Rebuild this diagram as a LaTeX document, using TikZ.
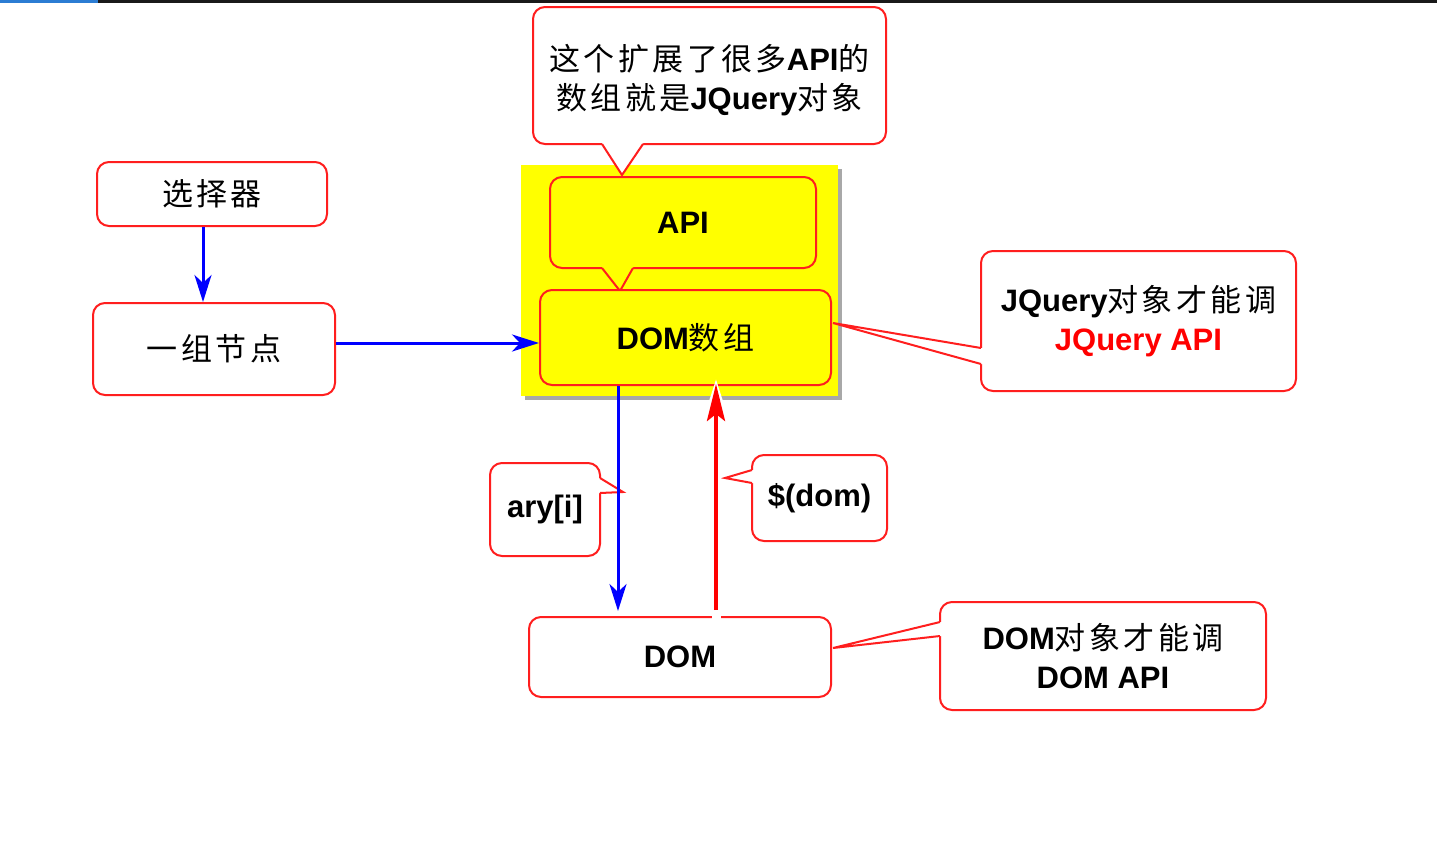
\documentclass[tikz,border=0pt]{standalone}
\usepackage{fontspec}
\setmainfont{Liberation Sans}
\newfontfamily\cjk[LetterSpace=11]{Noto Sans CJK SC}
\newcommand{\zh}[1]{{\cjk\mdseries #1}}
\usetikzlibrary{arrows.meta,shadows,calc}
\definecolor{boxred}{RGB}{255,30,30}
\definecolor{arrblue}{RGB}{0,0,255}
\definecolor{barblue}{RGB}{43,124,211}
\definecolor{barblack}{RGB}{25,25,25}
\definecolor{jqyellow}{RGB}{255,255,0}
\newcommand{\calloutptr}[5]{%
  \fill[#1] (#2) -- (#3) -- (#4) -- ($(#4)+#5$) -- ($(#2)+#5$) -- cycle;
  \draw[ptr] (#2) -- (#3) -- (#4);}
\begin{document}
\begin{tikzpicture}[x=1pt,y=-1pt,
  box/.style={draw=boxred, line width=2pt, rounded corners=12pt, fill=white,
    inner sep=0pt, align=center, font=\fontsize{31}{39}\selectfont\bfseries},
  ybox/.style={box, fill=jqyellow},
  bluearrow/.style={draw=arrblue, line width=3pt, -{Stealth[length=27pt,width=17pt,inset=8pt]}},
  redarrow/.style={draw=red, line width=4pt, -{Stealth[length=37pt,width=18pt,inset=7pt]}},
  whitearrow/.style={draw=white, line width=9pt, -{Stealth[length=42pt,width=26pt,inset=8pt]}},
  ptr/.style={draw=boxred, line width=2pt, line join=miter},
]
\useasboundingbox (0,0) rectangle (1437,855);
\fill[white] (0,0) rectangle (1437,855);
% top bar
\fill[barblue] (0,0) rectangle (98,2.5);
\fill[barblack] (98,0) rectangle (1437,2.5);

% yellow background
\node[fill=jqyellow, inner sep=0pt, minimum width=317pt, minimum height=231pt,
  drop shadow={shadow xshift=3.5pt, shadow yshift=-3.5pt, opacity=0.75, fill=black!45}] (bg) at (679.5,280.5) {};

% top callout
\node[box, minimum width=353pt, minimum height=137pt] (top) at (709.5,75.5)
  {\rule{0pt}{36pt}\zh{这个扩展了很多}API\zh{的}\\\zh{数组就是}JQuery\zh{对象}};
\coordinate (t1) at (602,144); \coordinate (tt) at (622,175); \coordinate (t2) at (643,144);
\calloutptr{white}{t1}{tt}{t2}{(0,-4)}

% API callout
\node[ybox, minimum width=266pt, minimum height=91pt] (api) at (683,222.5) {API};
\coordinate (a1) at (602,268); \coordinate (at) at (620,291); \coordinate (a2) at (633,268);
\calloutptr{jqyellow}{a1}{at}{a2}{(0,-4)}

% DOM array
\node[ybox, minimum width=291pt, minimum height=95pt] (doma) at (685.5,337.5) {DOM\zh{数组}};

% selector and node group
\node[box, minimum width=230pt, minimum height=64pt] (sel) at (212,194) {\zh{选择器}};
\node[box, minimum width=242pt, minimum height=92pt] (grp) at (214,349) {\zh{一组节点}};

% JQuery callout
\node[box, minimum width=315pt, minimum height=140pt] (jq) at (1138.5,321)
  {JQuery\zh{对象才能调}\\\textcolor{red}{JQuery API}};
\coordinate (j1) at (981,348); \coordinate (jt) at (833,323); \coordinate (j2) at (981,364);
\calloutptr{white}{j1}{jt}{j2}{(4,0)}

% ary[i] callout
\node[box, minimum width=110pt, minimum height=93pt] (ary) at (545,509.5) {ary[i]};
\coordinate (r1) at (600,478); \coordinate (rt) at (623,492); \coordinate (r2) at (600,493);
\calloutptr{white}{r1}{rt}{r2}{(-4,0)}

% $(dom) callout
\node[box, minimum width=135pt, minimum height=86pt] (sdom) at (819.5,498) {\$(dom)};
\coordinate (s1) at (752,470); \coordinate (st) at (725,478); \coordinate (s2) at (752,483);
\calloutptr{white}{s1}{st}{s2}{(4,0)}

% DOM box
\node[box, minimum width=302pt, minimum height=80pt] (dom) at (680,657) {DOM};

% DOM API callout
\node[box, minimum width=326pt, minimum height=108pt] (domapi) at (1103,656)
  {DOM\zh{对象才能调}\\DOM API};
\coordinate (d1) at (940,622); \coordinate (dt) at (833,648); \coordinate (d2) at (940,636);
\calloutptr{white}{d1}{dt}{d2}{(4,0)}

% connectors
\coordinate (x203) at (203,0);
\coordinate (y343) at (0,343);
\coordinate (x618) at (618,0);
\coordinate (x716) at (716,0);
\draw[bluearrow] (sel.south -| x203) -- (grp.north -| x203);
\draw[bluearrow] (grp.east |- y343) -- (doma.west |- y343);
\draw[bluearrow] (doma.south -| x618) -- ($(dom.north -| x618)+(0,-5)$);
\draw[whitearrow] ($(dom.north -| x716)+(0,5)$) -- ($(doma.south -| x716)+(0,-7)$);
\draw[redarrow] ($(dom.north -| x716)+(0,-6)$) -- ($(doma.south -| x716)+(0,-2)$);
\end{tikzpicture}
\end{document}
